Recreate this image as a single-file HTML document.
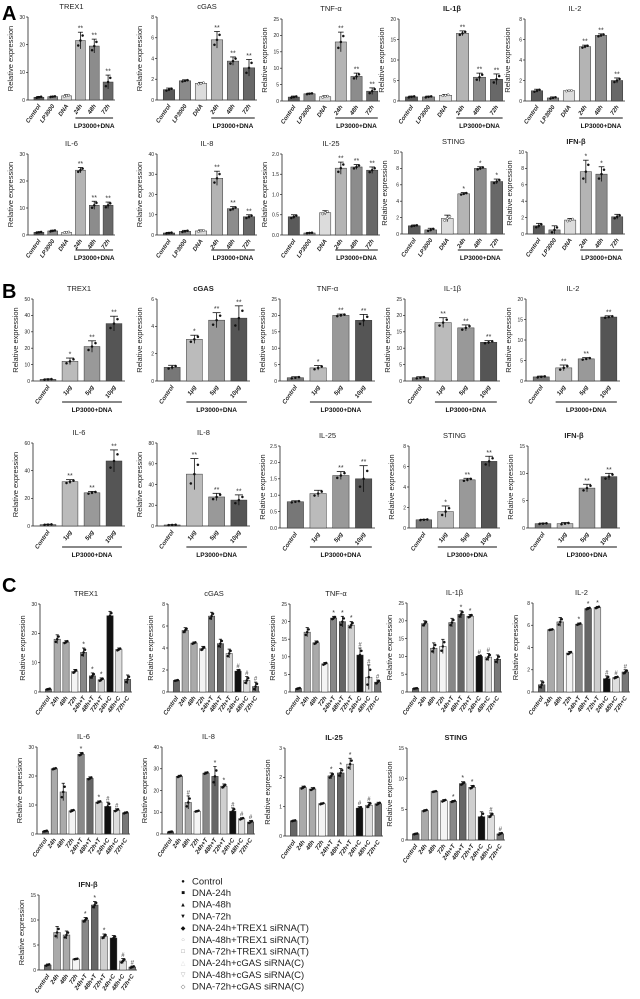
<!DOCTYPE html>
<html><head><meta charset="utf-8"><style>
html,body{margin:0;padding:0;background:#fff;width:640px;height:999px;overflow:hidden}
svg{display:block;font-family:"Liberation Sans",sans-serif}
</style></head><body>
<svg id="fig" width="640" height="999" viewBox="0 0 640 999" xmlns="http://www.w3.org/2000/svg">
<text x="2" y="20" font-size="20" font-weight="bold">A</text>
<text x="2" y="298" font-size="20" font-weight="bold">B</text>
<text x="2" y="592" font-size="20" font-weight="bold">C</text>
<g id="legend"></g>
</svg>
<script>
// ---- categories ----
const catA = ["Control","LP3000","DNA","24h","48h","72h"];
const catB = ["Control","1μg","5μg","10μg"];
const catC = ["Control","24h","48h","72h","24h+T","48h+T","72h+T","24h+C","48h+C","72h+C"];
const legendLabels = ["Control","DNA-24h","DNA-48h","DNA-72h","DNA-24h+TREX1 siRNA(T)","DNA-48h+TREX1 siRNA(T)","DNA-72h+TREX1 siRNA(T)","DNA-24h+cGAS siRNA(C)","DNA-48h+cGAS siRNA(C)","DNA-72h+cGAS siRNA(C)"];
// ---- panel A values ----
const aTREX1 = [1,1.2,1.5,21.5,19.5,6.5];   const aTREX1Err = [0.3,0.2,0.4,3,2.5,2.5];
const aCGAS = [1,1.85,1.6,5.8,3.75,3.1];    const aCGASErr = [0.15,0.1,0.1,0.8,0.4,0.8];
const aTNF = [1.2,2.2,1.3,18,7.5,3];        const aTNFErr = [0.3,0.2,0.3,3,1,1];
const aIL1B = [1,1,1.4,16.5,5.8,5.3];       const aIL1BErr = [0.2,0.2,0.2,0.6,1,1.3];
const aIL2 = [1,0.3,1,5.3,6.4,2];           const aIL2Err = [0.15,0.1,0.05,0.15,0.15,0.25];
const aIL6 = [1,1.5,1,24,11,11];            const aIL6Err = [0.2,0.3,0.2,1,1.5,1.2];
const aIL8 = [1,1.8,2,28,13,9];             const aIL8Err = [0.3,0.5,0.5,3.5,1,1];
const aIL25 = [0.45,0.05,0.55,1.65,1.68,1.6]; const aIL25Err = [0.05,0.01,0.05,0.15,0.06,0.08];
const aSTING = [1,0.5,1.9,4.9,8,6.4];       const aSTINGErr = [0.1,0.2,0.4,0.15,0.2,0.3];
const aIFNB = [1,0.5,1.7,7.6,7.3,2.1];      const aIFNBErr = [0.3,0.5,0.2,1.4,0.9,0.3];
const aSig2 = ["","","","**","**","**"];
const aSig1 = ["","","","*","*","*"];
const aSigIFN = ["","","","*","*",""];
// ---- panel B values ----
const bTREX1 = [1,12,21,35];   const bTREX1Err = [0.3,2,3.5,4.5];
const bCGAS = [1,3.05,4.45,4.6]; const bCGASErr = [0.15,0.3,0.55,0.9];
const bTNF = [1,4,20,18.5];    const bTNFErr = [0.3,0.7,0.4,1.8];
const bIL1B = [1,17.8,16.2,11.8]; const bIL1BErr = [0.3,1.5,0.9,0.5];
const bIL2 = [1,3.2,5.4,15.6]; const bIL2Err = [0.2,0.7,0.3,0.3];
const bIL6 = [1,32,24,47];     const bIL6Err = [0.3,1.5,1,8];
const bIL8 = [1,50,28,25];     const bIL8Err = [0.3,15,3.5,5];
const bIL25 = [0.8,1.05,1.6,1.5]; const bIL25Err = [0.03,0.1,0.12,0.4];
const bSTING = [0.8,1.6,4.7,6.5]; const bSTINGErr = [0.05,0.55,0.15,0.5];
const bIFNB = [0.8,0.8,7.3,9.4]; const bIFNBErr = [0.1,0.2,0.7,0.6];
const bSigA = ["","*","**","**"];
const bSigB = ["","**","**","**"];
const bSigC = ["","","**","**"];
// ---- panel C values ----
const cTREX1 = [1,18,17,7,13.5,5.5,4.2,26,14.5,4.3]; const cTREX1Err = [0.2,1.5,0.5,0.7,1.5,1,0.6,1.5,0.5,1.5];
const cCGAS = [1.05,5.6,4.45,3.95,6.9,4.4,3.5,1.9,1.05,0.5]; const cCGASErr = [0.05,0.25,0.1,0.2,0.35,0.4,0.4,0.15,0.35,0.4];
const cTNF = [1,17,14,8,21,20,19,10.5,4.2,2.8]; const cTNFErr = [0.2,1.3,0.5,0.4,0.5,1.5,1,2,3.5,0.6];
const cIL1B = [1,19.2,12.3,12.8,19.5,21.8,21.3,10,9.8,9.2]; const cIL1BErr = [0.1,0.8,1.5,2,1.2,1,0.5,0.3,1,1.2];
const cIL2 = [0.65,5.6,6.3,3.5,6.1,7.5,7.6,1.2,1.3,1.8]; const cIL2Err = [0.35,0.05,0.4,0.15,0.1,0.1,0.1,0.25,0.1,0.2];
const cIL6 = [1,22.5,14.5,8,27.5,19.2,11,9.5,8.2,7.3]; const cIL6Err = [0.2,0.3,3,0.4,0.6,0.5,0.4,1.5,0.5,0.3];
const cIL8 = [1,26.5,14.5,10.5,28,26.5,22,10.5,7,5.5]; const cIL8Err = [0.2,0.5,3,0.3,0.5,4.5,1,1.5,0.5,0.7];
const cIL25 = [0.52,1.65,1.6,1.1,2.05,2.15,2.45,0.95,1.05,1.1]; const cIL25Err = [0.02,0.05,0.05,0.03,0.1,0.15,0.2,0.05,0.1,0.05];
const cSTING = [1,4.8,7.9,6.4,6.3,9.2,8.6,3.8,4,1]; const cSTINGErr = [0.1,0.15,0.1,0.2,0.15,0.3,0.3,0.8,0.4,0.2];
const cIFNB = [1,7.5,7,2.2,10,13,6.7,6.4,1.8,0.6]; const cIFNBErr = [0.2,1.2,0.8,0.1,0.5,0.7,0.5,0.5,0.5,0.2];
const cSigTREX1 = ["","","","","*","*","*","","",""];
const cSigCGAS = ["","","","","","","","#","#","#"];
const cSigTC = ["","","","","*","*","*","#","#","#"];
const cSigIL1B = ["","","","","","*","*","#","#",""];
const cSigIL6 = ["","","","","*","","*","#","#",""];
const cSigIL8 = ["","","#","","","*","*","#","#","#"];
const cSigIL25 = ["","","","","*","*","*","#","#",""];
const cSigLast = ["","","","","*","*","*","","#","#"];

const colA = ["#5a5a5a","#8a8a8a","#dcdcdc","#b4b4b4","#8c8c8c","#686868"];
const colB = ["#777","#bbb","#999","#555"];
const colC = ["#666","#aaa","#aaa","#f4f4f4","#888","#666","#cfcfcf","#111","#dedede","#777"];

const svg = document.getElementById('fig');
const NS = "http://www.w3.org/2000/svg";
function mk(tag, attrs, parent){ const e=document.createElementNS(NS,tag); for(const k in attrs) e.setAttribute(k,attrs[k]); (parent||svg).appendChild(e); return e; }

function panel(id, title, cats, vals, errs, sig, max, step, x0, x1, yTop, yZero, cols, bracket, titleBold){
  const g = mk('g',{});
  
  
  const ys = v => yZero - (v/max)*(yZero-yTop);
  const n = cats.length, slot = (x1-x0-4)/n;
  const xc = i => x0 + 4 + slot*(i+0.5);
  const t = mk('text',{x:(x0+x1)/2, y:yTop-8, 'font-size':7.5, 'text-anchor':'middle', 'font-weight': titleBold?'bold':'normal', fill:'#222'}, g);
  t.textContent = title;
  
  
  const yl = mk('text',{x:0,y:0,'font-size':7.5,'text-anchor':'middle',fill:'#222',transform:`translate(${x0-15},${(yTop+yZero)/2}) rotate(-90)`}, g);
  yl.textContent = 'Relative expression';
  
  
  mk('line',{x1:x0,y1:yTop,x2:x0,y2:yZero,stroke:'#222','stroke-width':0.8},g);
  mk('line',{x1:x0,y1:yZero,x2:x1,y2:yZero,stroke:'#222','stroke-width':0.8},g);
  for(let v=0; v<=max+1e-9; v+=step){
    const y=ys(v);
    mk('line',{x1:x0-2,y1:y,x2:x0,y2:y,stroke:'#222','stroke-width':0.7},g);
    const tl = mk('text',{x:x0-3,y:y+1.8,'font-size':5,'text-anchor':'end',fill:'#222'},g);
    tl.textContent = (step<1 ? v.toFixed(1) : String(Math.round(v)));
    
    
  }
  const bw = slot*0.72;
  for(let i=0;i<n;i++){
    const cx=xc(i), v=vals[i], e=errs[i];
    const r = mk('rect',{x:cx-bw/2,y:ys(v),width:bw,height:yZero-ys(v),fill:cols[i],stroke:'#333','stroke-width':0.5},g);
    
    
    const ye=ys(v+e), yl2=ys(Math.max(0,v-e));
    mk('line',{x1:cx,y1:ye,x2:cx,y2:yl2,stroke:'#111','stroke-width':0.8},g);
    mk('line',{x1:cx-bw*0.25,y1:ye,x2:cx+bw*0.25,y2:ye,stroke:'#111','stroke-width':0.8},g);
    for(let k=-1;k<=1;k++){
      mk('circle',{cx:cx+k*bw*0.22,cy:ys(v+k*e*0.6),r:1.1,fill:i===2&&cols===colA?'#fff':'#111',stroke:'#111','stroke-width':0.4},g);
    }
    if(sig[i]){
      const s = mk('text',{x:cx,y:ye-1.5,'font-size':sig[i]==='#'?6:7,'text-anchor':'middle',fill:'#333'},g);
      s.textContent = sig[i];
      
      
    }
    const xl = mk('text',{x:0,y:0,'font-size':6,'font-style':'italic','font-weight':'bold','text-anchor':'end',fill:'#222',transform:`translate(${cx+2},${yZero+6}) rotate(-55)`},g);
    xl.textContent = cats[i];
    
    
  }
  if(bracket){
    const s0 = bracket[0], s1 = bracket[1];
    mk('line',{x1:xc(s0)-bw/2,y1:bracket[2],x2:xc(s1)+bw/2,y2:bracket[2],stroke:'#111','stroke-width':1},g);
    const lt = mk('text',{x:(xc(s0)+xc(s1))/2,y:bracket[2]+10,'font-size':6.5,'font-weight':'bold','text-anchor':'middle',fill:'#111'},g);
    lt.textContent = 'LP3000+DNA';
    
    
  }
}

panel('a-trex1','TREX1',catA,aTREX1,aTREX1Err,aSig2,30,10,28,115,17,100,colA,[3,5,118]);
panel('a-cgas','cGAS',catA,aCGAS,aCGASErr,aSig2,8,2,157,257,17,100,colA,[3,5,118]);
panel('a-tnf','TNF-α',catA,aTNF,aTNFErr,aSig2,25,5,282,380,19,101,colA,[3,5,118]);
panel('a-il1b','IL-1β',catA,aIL1B,aIL1BErr,aSig2,20,5,399,505,19,101,colA,[3,5,118],true);
panel('a-il2','IL-2',catA,aIL2,aIL2Err,aSig2,8,2,525,625,19,101,colA,[3,5,118]);
panel('a-il6','IL-6',catA,aIL6,aIL6Err,aSig2,30,10,28,115,154,235,colA,[3,5,250]);
panel('a-il8','IL-8',catA,aIL8,aIL8Err,aSig2,40,10,157,257,154,235,colA,[3,5,250]);
panel('a-il25','IL-25',catA,aIL25,aIL25Err,aSig2,2,0.5,282,380,154,235,colA,[3,5,250]);
panel('a-sting','STING',catA,aSTING,aSTINGErr,aSig1,10,2,402,505,152,234,colA,[3,5,250]);
panel('a-ifnb','IFN-β',catA,aIFNB,aIFNBErr,aSigIFN,10,2,527,625,152,234,colA,[3,5,250],true);
panel('b-trex1','TREX1',catB,bTREX1,bTREX1Err,bSigA,50,10,33,125,299,381,colB,[1,3,402]);
panel('b-cgas','cGAS',catB,bCGAS,bCGASErr,bSigA,6,2,157,250,299,381,colB,[1,3,402],true);
panel('b-tnf','TNF-α',catB,bTNF,bTNFErr,bSigA,25,5,280,375,299,381,colB,[1,3,402]);
panel('b-il1b','IL-1β',catB,bIL1B,bIL1BErr,bSigB,25,5,405,500,299,381,colB,[1,3,402]);
panel('b-il2','IL-2',catB,bIL2,bIL2Err,bSigB,20,5,526,620,299,381,colB,[1,3,402]);
panel('b-il6','IL-6',catB,bIL6,bIL6Err,bSigB,60,20,33,125,443,526,colB,[1,3,547]);
panel('b-il8','IL-8',catB,bIL8,bIL8Err,bSigB,80,20,157,250,443,526,colB,[1,3,547]);
panel('b-il25','IL-25',catB,bIL25,bIL25Err,bSigC,2.5,0.5,280,375,446,528,colB,[1,3,547]);
panel('b-sting','STING',catB,bSTING,bSTINGErr,bSigA,8,2,409,500,446,528,colB,[1,3,547]);
panel('b-ifnb','IFN-β',catB,bIFNB,bIFNBErr,bSigC,15,5,528,620,446,528,colB,[1,3,547],true);
panel('c-trex1','TREX1',catC,cTREX1,cTREX1Err,cSigTREX1,30,10,40,132,604,692,colC,null);
panel('c-cgas','cGAS',catC,cCGAS,cCGASErr,cSigCGAS,8,2,168,260,604,692,colC,null);
panel('c-tnf','TNF-α',catC,cTNF,cTNFErr,cSigTC,25,5,290,382,604,692,colC,null);
panel('c-il1b','IL-1β',catC,cIL1B,cIL1BErr,cSigIL1B,25,5,407,502,603,692,colC,null);
panel('c-il2','IL-2',catC,cIL2,cIL2Err,cSigTC,8,2,533,630,603,692,colC,null);
panel('c-il6','IL-6',catC,cIL6,cIL6Err,cSigIL6,30,10,37,130,747,834,colC,null);
panel('c-il8','IL-8',catC,cIL8,cIL8Err,cSigIL8,40,10,162,255,747,834,colC,null);
panel('c-il25','IL-25',catC,cIL25,cIL25Err,cSigIL25,3,1,285,383,748,836,colC,null,true);
panel('c-sting','STING',catC,cSTING,cSTINGErr,cSigLast,15,5,407,505,748,840,colC,null,true);
panel('c-ifnb','IFN-β',catC,cIFNB,cIFNBErr,cSigLast,15,5,39,137,895,970,colC,null,true);

const lg = document.getElementById('legend');
const markers = ["●","■","▲","▼","◆","○","□","△","▽","◇"];
const mcol = ["#111","#111","#111","#111","#111","#aaa","#888","#ddd","#aaa","#555"];
for(let i=0;i<legendLabels.length;i++){
  const y = 881 + i*11.7;
  const m = mk('text',{x:183,y:y+2,'font-size':6,'text-anchor':'middle',fill:mcol[i]},lg);
  m.textContent = markers[i];
  
  
  const t = mk('text',{x:192,y:y+3.3,'font-size':9.5,fill:'#222'},lg);
  t.textContent = legendLabels[i];
  
  
}
</script>
</body></html>
